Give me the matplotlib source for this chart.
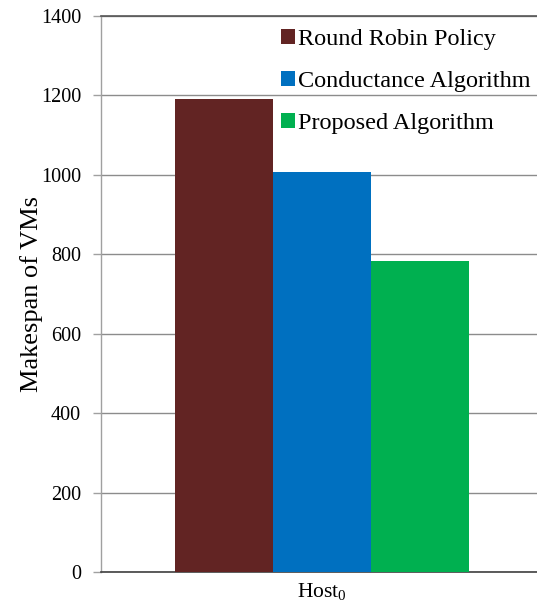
import matplotlib
matplotlib.use("Agg")
import matplotlib.pyplot as plt
from matplotlib.patches import Patch

# makespan per scheduling policy on one host
policies = ["Round Robin Policy", "Conductance Algorithm", "Proposed Algorithm"]
makespan = [1191, 1008, 783]
colors = ["#622423", "#0070C0", "#00B050"]
host_label = "Host$_0$"
yticks = [0, 200, 400, 600, 800, 1000, 1200, 1400]

plt.rcParams["font.family"] = "Liberation Serif"
plt.rcParams["mathtext.fontset"] = "custom"
plt.rcParams["mathtext.rm"] = "Liberation Serif"
plt.rcParams["mathtext.it"] = "Liberation Serif"

W, H = 537, 603
fig = plt.figure(figsize=(W / 100, H / 100), dpi=100)
ax = fig.add_axes([100.5 / W, 1 - 572.3 / H, 1 - 100.5 / W, (572.3 - 15.7) / H])

offsets = [-1, 0, 1]
for off, val, col in zip(offsets, makespan, colors):
    ax.bar(off, val, width=1.0, color=col, zorder=3)

ax.set_xlim(-2.257, 2.196)
ax.set_ylim(0, 1400)
ax.set_yticks(yticks)
ax.set_yticklabels([str(t) for t in yticks], fontsize=14.5)
ax.set_xticks([0])
ax.set_xticklabels([host_label], fontsize=15.5)
ax.tick_params(axis="x", length=0, pad=6)
ax.tick_params(axis="y", length=6, width=1, color="#a0a0a0", pad=8)

ax.yaxis.grid(True, color="#8c8c8c", linewidth=1, zorder=0)
ax.set_axisbelow(True)

ax.spines["right"].set_visible(False)
ax.spines["top"].set_color("#555555")
ax.spines["top"].set_linewidth(1.2)
ax.spines["bottom"].set_color("#404040")
ax.spines["bottom"].set_linewidth(1.2)
ax.spines["left"].set_color("#a0a0a0")
ax.spines["left"].set_linewidth(1)

ax.set_ylabel("Makespan of VMs", fontsize=19)
ax.yaxis.set_label_coords(-(100.5 - 43) / (W - 100.5), 0.5)

handles = [Patch(facecolor=c, edgecolor="none") for c in colors]
fig.legend(handles, policies, loc="upper left",
           bbox_to_anchor=(281 / W, 1 - 29 / H), frameon=False,
           fontsize=17.5, handlelength=0.58, handleheight=0.58,
           handletextpad=0.1, labelspacing=0.86, borderpad=0,
           borderaxespad=0)

fig.savefig("out.png", dpi=100)
